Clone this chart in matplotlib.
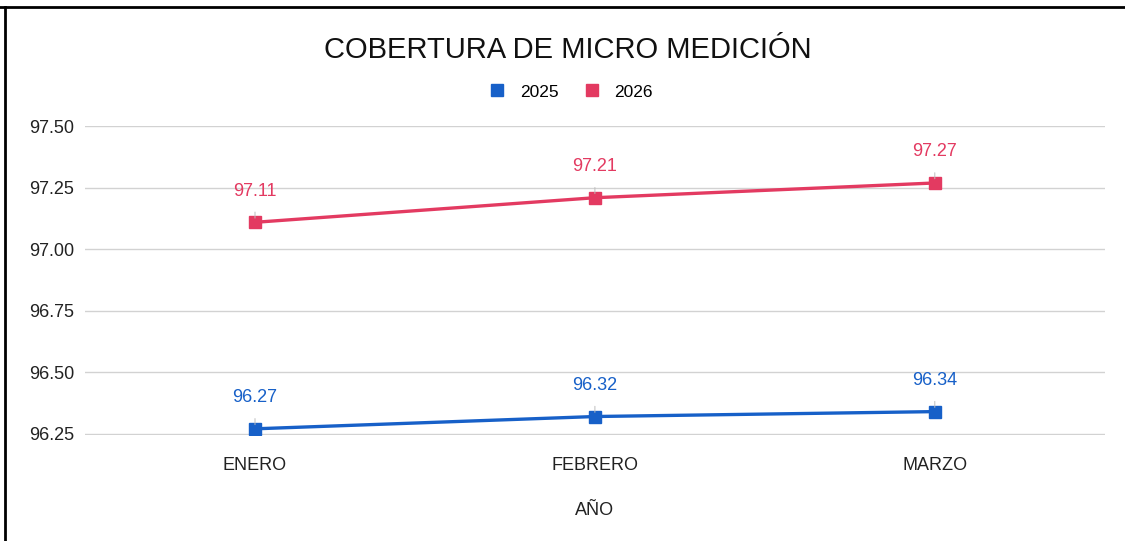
import matplotlib
matplotlib.use("Agg")
import matplotlib.pyplot as plt
from matplotlib.lines import Line2D
import numpy as np

plt.rcParams["font.family"] = ["Liberation Sans", "DejaVu Sans"]

meses = ["ENERO", "FEBRERO", "MARZO"]
cob_2025 = [96.27, 96.32, 96.34]
cob_2026 = [97.11, 97.21, 97.27]
y_ticks = [96.25, 96.50, 96.75, 97.00, 97.25, 97.50]

azul = "#1760c8"
rojo = "#e33a61"

fig = plt.figure(figsize=(11.25, 5.41), dpi=100)
ax = fig.add_axes([0.0756, 0.196, 0.9064, 0.571])

x = np.arange(len(meses))
for vals, col, lab in [(cob_2025, azul, "2025"), (cob_2026, rojo, "2026")]:
    ax.plot(x, vals, color=col, lw=2.4, marker="s", markersize=8.5, label=lab, zorder=3)
    for xi, v in zip(x, vals):
        ax.annotate(f"{v:.2f}", xy=(xi, v), xytext=(0, 22.5), textcoords="offset points",
                    ha="center", va="center", fontsize=13, color=col,
                    arrowprops=dict(arrowstyle="-", color="#bdbdbd", lw=0.7,
                                    shrinkA=7, shrinkB=3))

ax.set_xlim(-0.5, 2.5)
ax.set_ylim(96.245, 97.5015)
ax.set_yticks(y_ticks)
ax.set_yticklabels([f"{t:.2f}" for t in y_ticks], fontsize=13, color="#222222")
ax.set_xticks(x)
ax.set_xticklabels(meses, fontsize=13, color="#222222")
ax.tick_params(length=0, axis="y", pad=8)
ax.tick_params(length=0, axis="x", pad=16)
ax.grid(axis="y", color="#d2d2d2", lw=1.0)
ax.set_axisbelow(True)
for s in ax.spines.values():
    s.set_visible(False)
ax.set_xlabel("AÑO", fontsize=13, color="#222222", labelpad=20)

fig.text(0.505, 0.907, "COBERTURA DE MICRO MEDICIÓN", ha="center", va="center",
         fontsize=21, color="#111111")

handles = [Line2D([], [], ls="none", marker="s", markersize=9, color=azul),
           Line2D([], [], ls="none", marker="s", markersize=9, color=rojo)]
fig.legend(handles, ["2025", "2026"], loc="center", bbox_to_anchor=(0.508, 0.83),
           ncol=2, frameon=False, fontsize=12.5, handlelength=0.8, handletextpad=0.9,
           columnspacing=1.5)

# marco del recorte
fig.add_artist(Line2D([0.0, 1.0], [1 - 7 / 541, 1 - 7 / 541], color="black", lw=2,
                      transform=fig.transFigure))
fig.add_artist(Line2D([5 / 1125, 5 / 1125], [0.0, 1 - 7 / 541], color="black", lw=2,
                      transform=fig.transFigure))

fig.savefig("out.png", dpi=100)
